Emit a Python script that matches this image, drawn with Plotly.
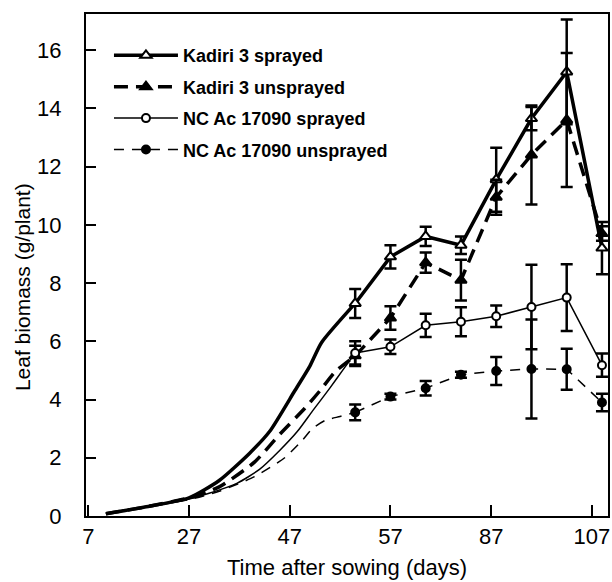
import plotly.graph_objects as go

# ---------------- data ----------------
days = [60, 67, 74, 81, 88, 95, 102, 109]

kadiri_sprayed = [7.3, 8.9, 9.6, 9.3, 11.55, 13.65, 15.25, 9.2]
kadiri_sprayed_err = [0.5, 0.4, 0.33, 0.3, 1.1, 0.4, 1.8, 0.9]
kadiri_unsprayed = [5.5, 6.8, 8.7, 8.1, 10.95, 12.4, 13.6, 9.7]
kadiri_unsprayed_err = [0.35, 0.4, 0.35, 0.7, 0.6, 1.7, 2.3, 0.25]
nc_sprayed = [5.6, 5.81, 6.55, 6.67, 6.86, 7.18, 7.5, 5.18]
nc_sprayed_err = [0.4, 0.25, 0.4, 0.5, 0.37, 1.45, 1.15, 0.4]
nc_unsprayed = [3.56, 4.1, 4.39, 4.85, 4.98, 5.05, 5.04, 3.9]
nc_unsprayed_err = [0.27, 0.1, 0.25, 0.1, 0.48, 1.7, 0.7, 0.3]

# early growth curves (no sampled points shown)
ks_early_days = [10.5, 18, 27, 33, 39, 43, 48, 51, 53.3, 60]
ks_early = [0.08, 0.3, 0.62, 1.22, 2.15, 2.9, 4.3, 5.15, 5.95, 7.3]
ku_early_days = [10.5, 18, 27, 33, 40, 45, 50, 53, 56, 60]
ku_early = [0.08, 0.3, 0.62, 1.0, 1.85, 2.8, 3.7, 4.3, 4.95, 5.5]
ns_early_days = [10.5, 18, 27, 31, 36.5, 41, 45, 48.5, 51.5, 55, 57.5, 60]
ns_early = [0.08, 0.3, 0.58, 0.78, 1.12, 1.6, 2.25, 2.9, 3.6, 4.4, 5.0, 5.6]
nu_early_days = [10.5, 18, 27, 33, 40, 46, 49.5, 51.5, 54, 57, 60]
nu_early = [0.08, 0.3, 0.56, 0.85, 1.35, 2.0, 2.6, 3.0, 3.28, 3.42, 3.56]

series_names = ["Kadiri 3 sprayed", "Kadiri 3 unsprayed",
                "NC Ac 17090 sprayed", "NC Ac 17090 unsprayed"]

x_tick_vals = [7, 27, 47, 67, 87, 107]
x_tick_labels = ["7", "27", "47", "57", "87", "107"]
y_tick_vals = [0, 2, 4, 6, 8, 10, 12, 14, 16]
y_tick_labels = ["0", "2", "4", "6", "8", "10", "12", "14", "16"]

# ---------------- styles ----------------
FONT = "Liberation Sans, Arial, sans-serif"
styles = [
    dict(width=3.5, dash="solid", symbol="triangle-up", fill="white", size=10),
    dict(width=3.5, dash="14px,8px", symbol="triangle-up", fill="black", size=10),
    dict(width=1.5, dash="solid", symbol="circle", fill="white", size=8),
    dict(width=1.5, dash="10px,8px", symbol="circle", fill="black", size=8),
]
early = [(ks_early_days, ks_early), (ku_early_days, ku_early),
         (ns_early_days, ns_early), (nu_early_days, nu_early)]
measured = [(kadiri_sprayed, kadiri_sprayed_err), (kadiri_unsprayed, kadiri_unsprayed_err),
            (nc_sprayed, nc_sprayed_err), (nc_unsprayed, nc_unsprayed_err)]

fig = go.Figure()

for i, name in enumerate(series_names):
    st = styles[i]
    ex, ey = early[i]
    fig.add_trace(go.Scatter(
        x=ex, y=ey, mode="lines", showlegend=False, hoverinfo="skip",
        line=dict(color="black", width=st["width"], dash=st["dash"],
                  shape="spline", smoothing=0.6),
    ))

for i, name in enumerate(series_names):
    st = styles[i]
    vals, errs = measured[i]
    fig.add_trace(go.Scatter(
        x=days, y=vals, mode="lines+markers", name=name, legendgroup=f"g{i}",
        line=dict(color="black", width=st["width"], dash=st["dash"]),
        marker=dict(symbol=st["symbol"], size=st["size"], color=st["fill"],
                    line=dict(color="black", width=2)),
        error_y=dict(type="data", array=errs, visible=True,
                     color="black", thickness=2.5, width=6),
    ))

fig.update_layout(
    width=612, height=582,
    margin=dict(l=86, r=4, t=14, b=66, autoexpand=False),
    paper_bgcolor="white", plot_bgcolor="white",
    font=dict(family=FONT, color="black"),
    showlegend=True,
    legend=dict(
        x=0.044, y=0.954, xanchor="left", yanchor="top",
        bgcolor="rgba(0,0,0,0)", borderwidth=0,
        font=dict(size=18, family=FONT, color="black", weight="bold"),
        itemwidth=64, tracegroupgap=5,
    ),
    xaxis=dict(
        range=[6.55, 110.2], tickmode="array",
        tickvals=x_tick_vals, ticktext=x_tick_labels,
        ticks="inside", ticklen=11, tickwidth=2, tickcolor="black",
        showline=True, linewidth=2, linecolor="black", mirror=True,
        showgrid=False, zeroline=False, automargin=False,
        tickfont=dict(size=22, family=FONT),
        title=dict(text="Time after sowing (days)", font=dict(size=22, family=FONT),
                   standoff=11),
    ),
    yaxis=dict(
        range=[0, 17.24], tickmode="array",
        tickvals=y_tick_vals, ticktext=y_tick_labels,
        ticks="inside", ticklen=10, tickwidth=2, tickcolor="black",
        showline=True, linewidth=2, linecolor="black", mirror=True,
        showgrid=False, zeroline=False, automargin=False,
        tickfont=dict(size=22, family=FONT),
        ticklabelstandoff=18,
    ),
    annotations=[dict(
        text="Leaf biomass (g/plant)", textangle=-90,
        xref="paper", yref="paper", x=-0.1226, y=0.456,
        xanchor="center", yanchor="middle", showarrow=False,
        font=dict(size=21, family=FONT, color="black"),
    )],
)

fig.write_html("out.html", config={"displayModeBar": False},
               post_script="document.body.style.margin='0';")
